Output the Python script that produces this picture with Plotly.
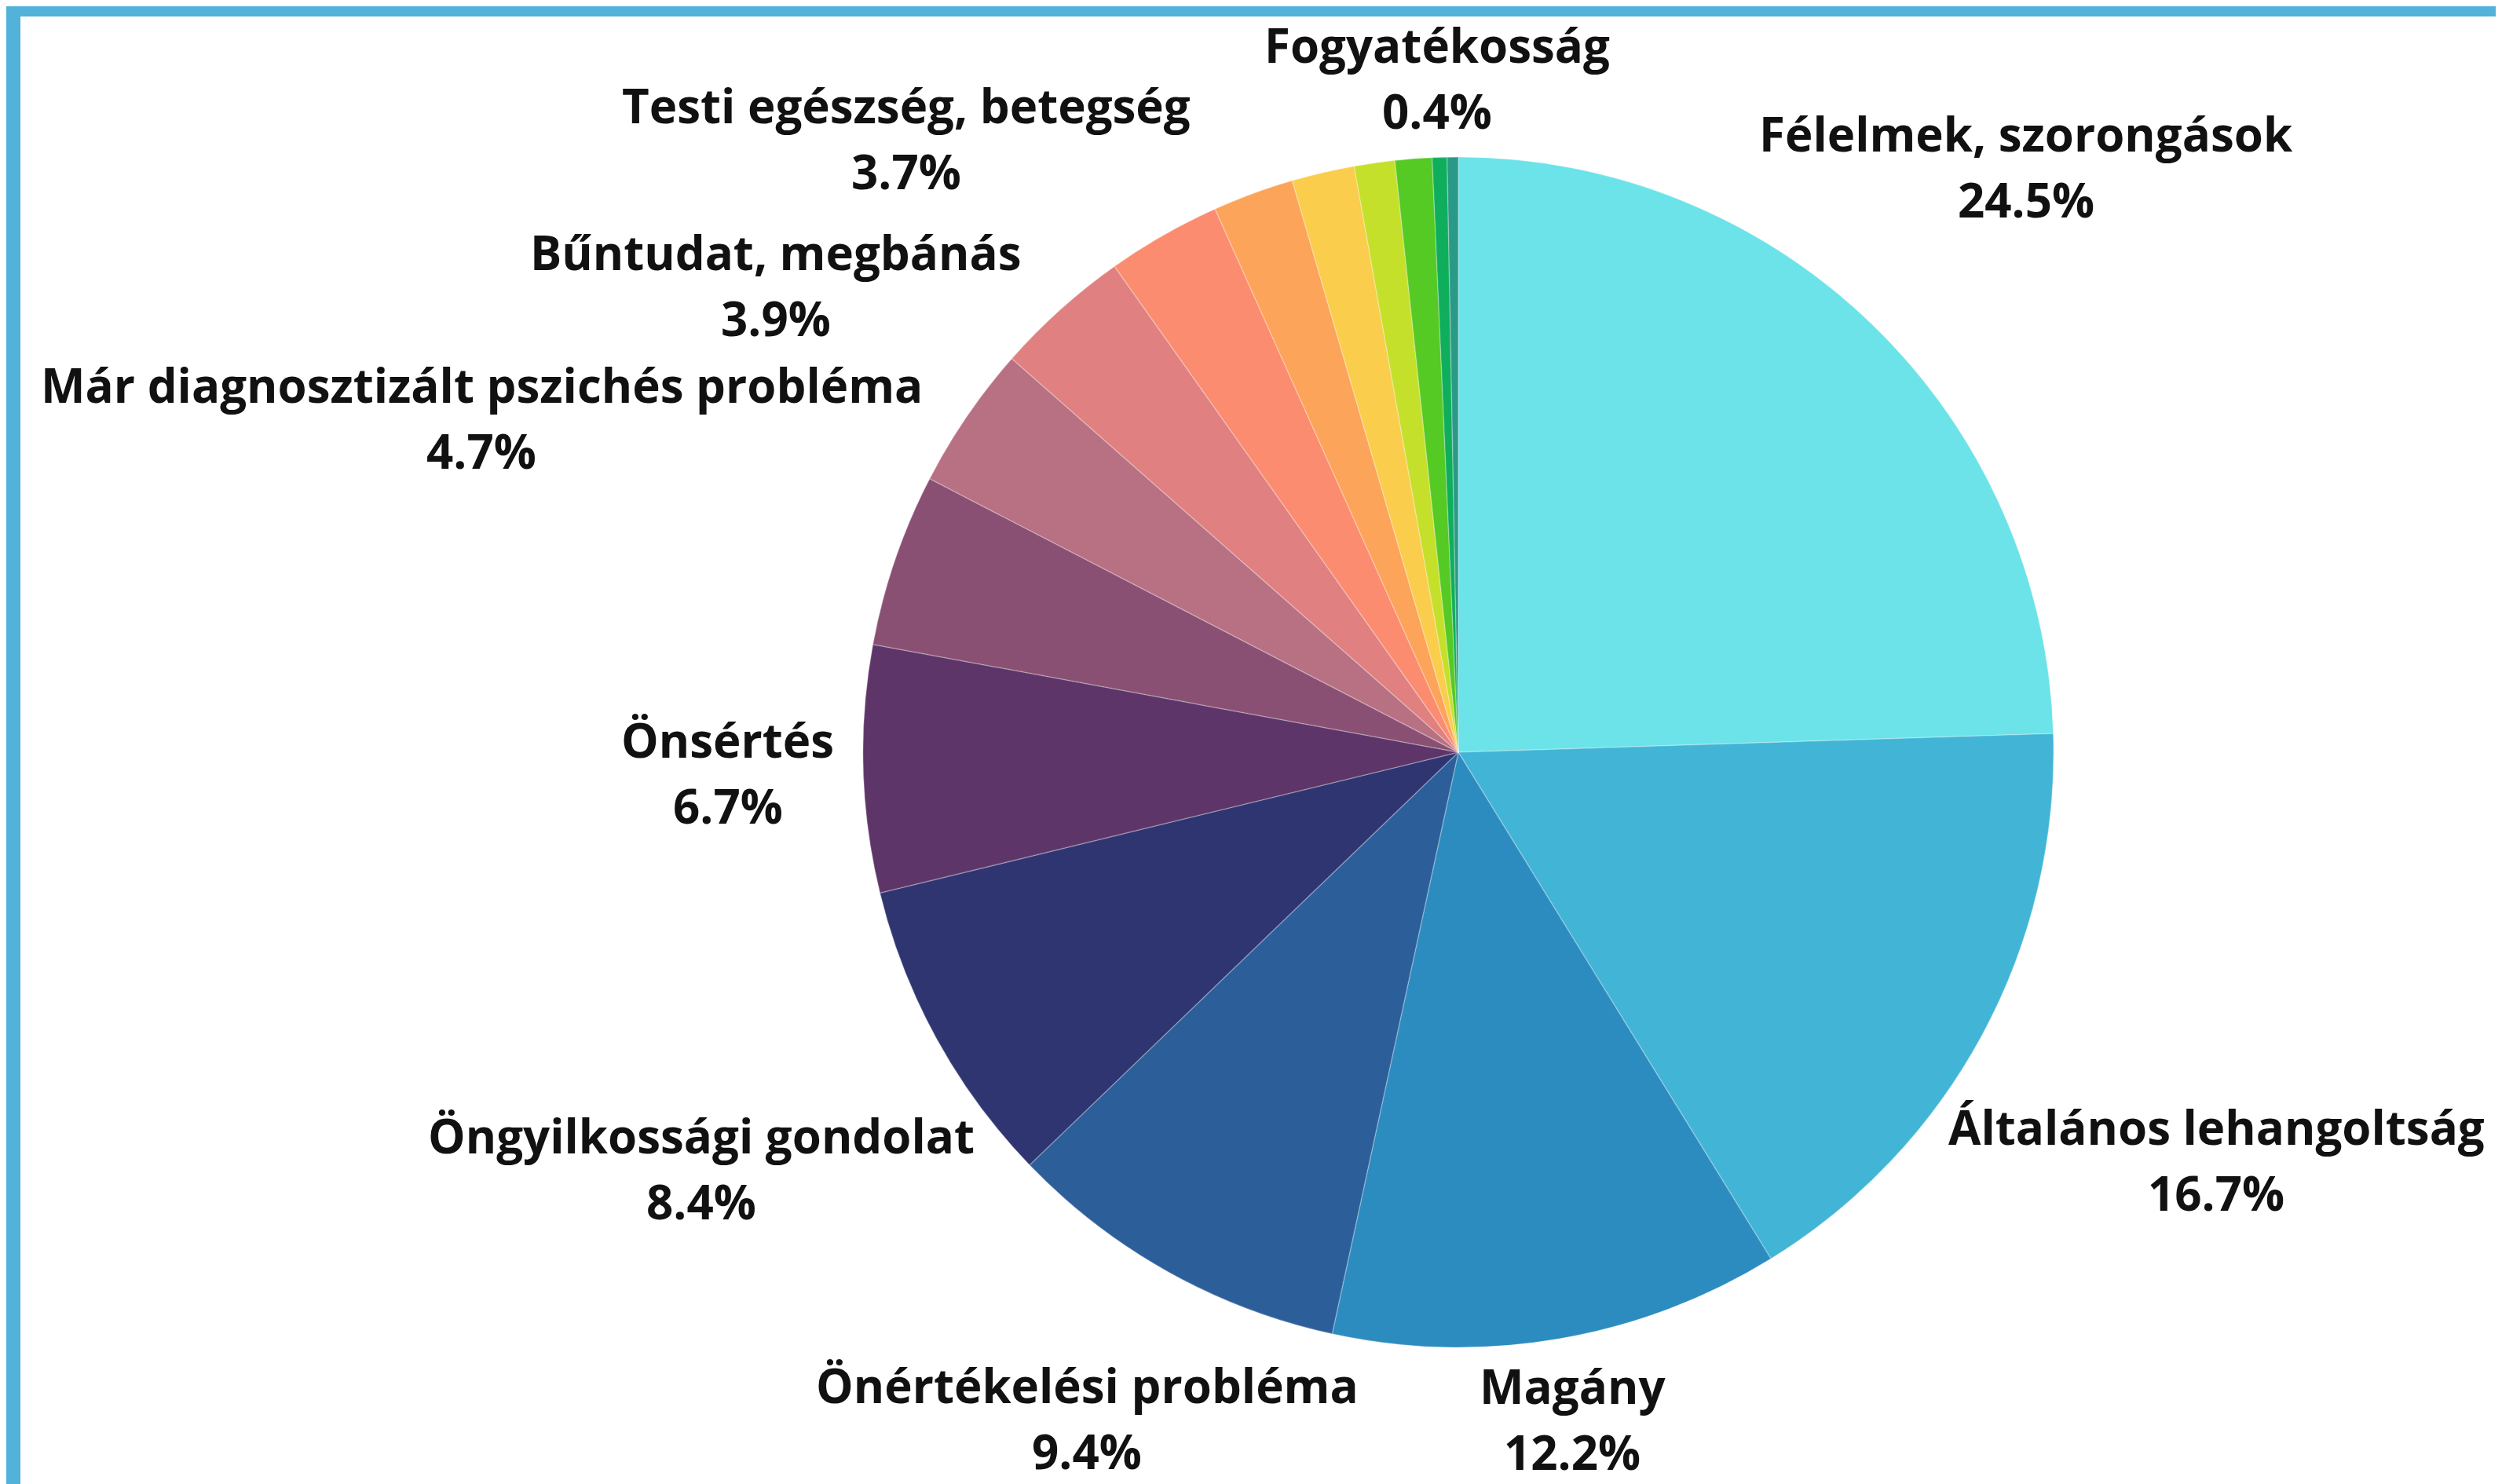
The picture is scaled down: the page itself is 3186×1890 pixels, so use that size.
import math
import plotly.graph_objects as go

categories = [
    "Félelmek, szorongások",
    "Általános lehangoltság",
    "Magány",
    "Önértékelési probléma",
    "Öngyilkossági gondolat",
    "Önsértés",
    "Már diagnosztizált pszichés probléma",
    "Bűntudat, megbánás",
    "Testi egészség, betegség",
    "Egyéb 1",
    "Egyéb 2",
    "Egyéb 3",
    "Egyéb 4",
    "Egyéb 5",
    "Fogyatékosság",
    "Egyéb 6",
]
values = [24.5, 16.7, 12.2, 9.4, 8.4, 6.7, 4.7, 3.9, 3.7, 3.1, 2.2, 1.7, 1.1, 1.0, 0.4, 0.3]
show_label = [True, True, True, True, True, True, True, True, True,
              False, False, False, False, False, True, False]
colors = ["#6BE3E8", "#42B5D6", "#2D8CBF", "#2C5E9A", "#2F3571", "#5E3569",
          "#8A5074", "#B87083", "#E08080", "#FB8C70", "#FCA45A", "#FACD4C",
          "#C5E02B", "#55C924", "#0FAE5C", "#2A9A88"]

W, H = 3186, 1890
cx, cy, r = 1849, 950, 758
FS = 60
LINE_GAP = 84      # baseline-to-baseline distance between name and percent
HALF_H = 56        # half height of a two-line label block
GAP = 45           # distance between pie edge and label block


def text_width(s, fs):
    w = 0.0
    for ch in s:
        if ch in "iljíÍ.,:;'|!":
            w += 0.28
        elif ch in "frt":
            w += 0.40
        elif ch == " ":
            w += 0.26
        elif ch in "szc":
            w += 0.49
        elif ch in "mM":
            w += 0.90
        elif ch in "wW":
            w += 0.82
        elif ch == "%":
            w += 0.86
        elif ch.isdigit():
            w += 0.57
        elif ch.isupper():
            w += 0.68
        else:
            w += 0.60
    return w * fs


fig = go.Figure(go.Pie(
    labels=categories,
    values=values,
    textinfo="none",
    sort=False,
    direction="clockwise",
    rotation=0,
    marker=dict(colors=colors, line=dict(width=1.5, color="rgba(255,255,255,0.25)")),
    hoverinfo="label+percent",
    showlegend=False,
    domain=dict(x=[(cx - r) / W, (cx + r) / W], y=[(H - cy - r) / H, (H - cy + r) / H]),
))

annotations = []
total = sum(values)
cum = 0.0
for name, v, show in zip(categories, values, show_label):
    mid = (cum + v / 2) / total * 2 * math.pi
    cum += v
    if not show:
        continue
    pct = f"{v:.1f}%"
    ux, uy = math.sin(mid), -math.cos(mid)
    hw = max(text_width(name, FS), text_width(pct, FS)) / 2
    d = r + GAP + math.hypot(hw * ux, HALF_H * uy)
    px, py = cx + d * ux, cy + d * uy
    for txt, yy in ((name, py - LINE_GAP / 2), (pct, py + LINE_GAP / 2)):
        annotations.append(dict(
            x=px / W, y=1 - yy / H, xref="paper", yref="paper",
            text=txt, showarrow=False, xanchor="center", yanchor="middle",
            font=dict(family="Open Sans", size=FS, color="#111111", weight="bold"),
        ))

fig.update_layout(
    width=W, height=H,
    margin=dict(l=0, r=0, t=0, b=0),
    paper_bgcolor="white",
    font=dict(family="Open Sans"),
    annotations=annotations,
    shapes=[
        dict(type="rect", xref="paper", yref="paper", x0=0, x1=1, y0=1 - 13 / H, y1=1,
             fillcolor="#52B2DA", line=dict(width=0), layer="above"),
        dict(type="rect", xref="paper", yref="paper", x0=0, x1=18 / W, y0=0, y1=1,
             fillcolor="#52B2DA", line=dict(width=0), layer="above"),
    ],
)

fig.write_html("out.html")
